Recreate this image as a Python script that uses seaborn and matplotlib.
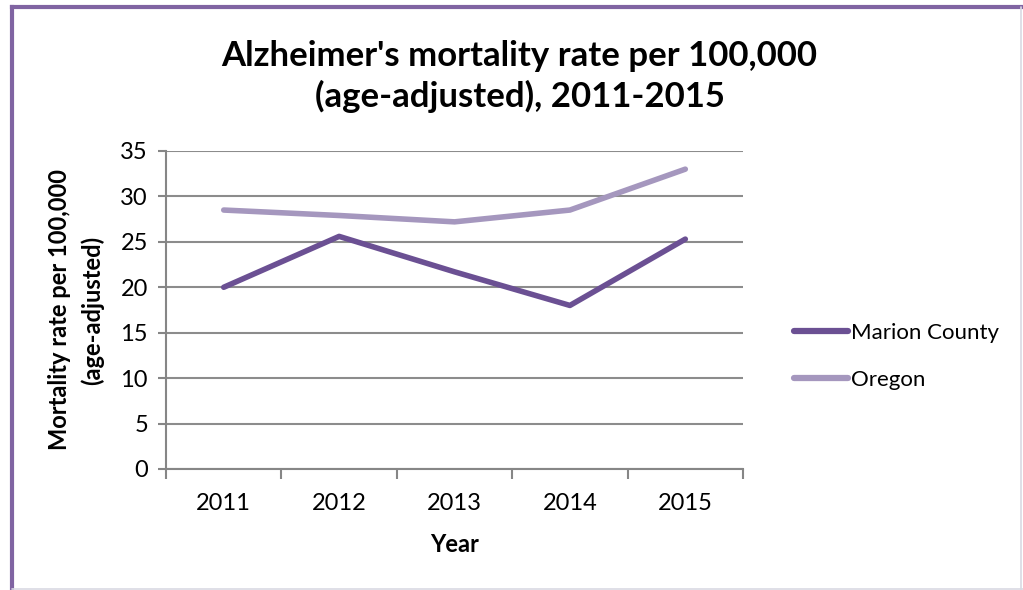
import matplotlib
matplotlib.use("Agg")
import matplotlib.pyplot as plt
import seaborn as sns
import pandas as pd
from matplotlib.lines import Line2D
from matplotlib.ticker import FixedLocator, NullFormatter

years = ["2011", "2012", "2013", "2014", "2015"]
marion = [20.0, 25.6, 21.7, 18.0, 25.3]
oregon = [28.5, 27.9, 27.2, 28.5, 33.0]
series_names = ["Marion County", "Oregon"]
colors = ["#6B5093", "#A597BE"]

df = pd.DataFrame({
    "Year": years * 2,
    "Rate": marion + oregon,
    "Series": [series_names[0]] * 5 + [series_names[1]] * 5,
})
df["pos"] = [i + 0.5 for i in range(5)] * 2

sns.set_theme(style="white")
plt.rcParams["font.family"] = ["Lato", "DejaVu Sans"]
plt.rcParams["text.color"] = "black"
plt.rcParams["axes.labelcolor"] = "black"
plt.rcParams["xtick.labelcolor"] = "black"
plt.rcParams["ytick.labelcolor"] = "black"

fig = plt.figure(figsize=(10.23, 5.90), dpi=100)
ax = fig.add_axes([0.1623, 0.2051, 0.5640, 0.5390])

sns.lineplot(data=df, x="pos", y="Rate", hue="Series", palette=colors,
             linewidth=4, ax=ax, legend=False, solid_capstyle="round")

ax.set_xlim(0, 5)
ax.set_ylim(0, 35)
ax.set_yticks(range(0, 36, 5))
ax.set_xticks([i + 0.5 for i in range(5)])
ax.set_xticklabels(years, fontsize=17)
ax.tick_params(axis="x", which="major", length=0, pad=17, labelcolor="black")
ax.xaxis.set_minor_locator(FixedLocator(range(6)))
ax.xaxis.set_minor_formatter(NullFormatter())
ax.tick_params(axis="x", which="minor", length=7, width=1.5, color="#868686", direction="out", bottom=True)
ax.tick_params(axis="y", length=6, width=1.5, color="#868686", direction="out", labelsize=17, pad=7,
               left=True, labelcolor="black")
ax.grid(axis="y", color="#8C8C8C", linewidth=1.5)
ax.set_axisbelow(True)
for s in ["top", "right"]:
    ax.spines[s].set_visible(False)
for s in ["left", "bottom"]:
    ax.spines[s].set_color("#868686")
    ax.spines[s].set_linewidth(1.5)

ax.set_xlabel("Year", fontsize=17, fontweight="bold", labelpad=14, color="black")
ax.set_ylabel("Mortality rate per 100,000\n(age-adjusted)", fontsize=17, fontweight="bold",
              labelpad=12, linespacing=1.45, color="black")
fig.text(0.508, 0.87, "Alzheimer's mortality rate per 100,000\n(age-adjusted), 2011-2015",
         ha="center", va="center", fontsize=25, fontweight="bold", linespacing=1.3, color="black")

handles = [Line2D([], [], color=c, linewidth=4.5, solid_capstyle="round") for c in colors]
leg = fig.legend(handles, series_names, loc="center left", bbox_to_anchor=(0.757, 0.396),
                 frameon=False, fontsize=16, handlelength=2.4, handletextpad=0.15, labelspacing=1.2)
for t in leg.get_texts():
    t.set_color("black")

# chart border: purple left/top, faint grey right/bottom
fig.add_artist(Line2D([0.0117, 0.0117], [0.0, 0.988], transform=fig.transFigure,
                      color="#8064A2", linewidth=3, solid_capstyle="projecting"))
fig.add_artist(Line2D([0.0117, 1.0], [0.988, 0.988], transform=fig.transFigure,
                      color="#8064A2", linewidth=3, solid_capstyle="projecting"))
fig.add_artist(Line2D([0.998, 0.998], [0.0, 0.988], transform=fig.transFigure,
                      color="#D9D9E3", linewidth=1.2))
fig.add_artist(Line2D([0.0117, 1.0], [0.0025, 0.0025], transform=fig.transFigure,
                      color="#D9D9E3", linewidth=1.2))
fig.savefig("out.png", dpi=100)
